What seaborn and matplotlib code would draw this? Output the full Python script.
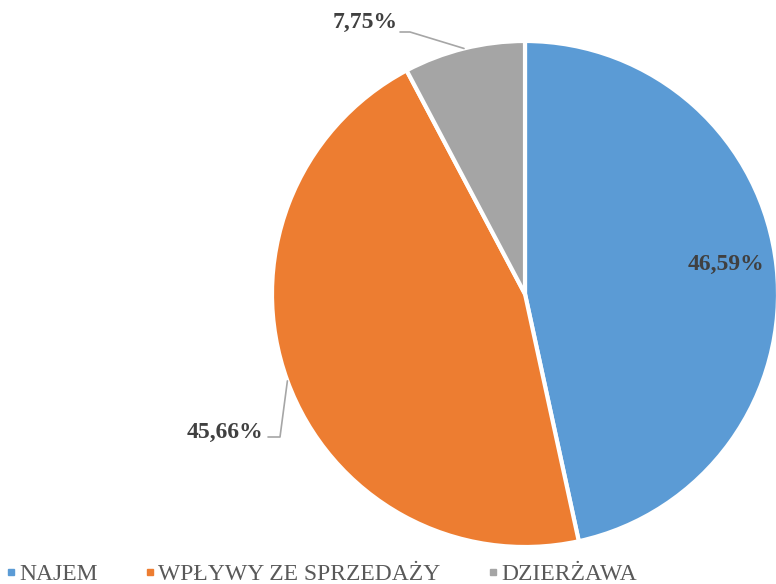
import numpy as np
import matplotlib
matplotlib.use('Agg')
import matplotlib.pyplot as plt
from matplotlib.lines import Line2D
import seaborn as sns

# Revenue structure (shares in %)
categories = ['NAJEM', 'WPŁYWY ZE SPRZEDAŻY', 'DZIERŻAWA']
shares = [46.59, 45.66, 7.75]
value_labels = ['46,59%', '45,66%', '7,75%']
colors = sns.color_palette(['#5B9BD5', '#ED7D31', '#A5A5A5'])

sns.set_theme(style='white')
plt.rcParams['font.family'] = ['Liberation Serif', 'DejaVu Serif']

W, H = 776, 584
fig = plt.figure(figsize=(W / 100, H / 100), dpi=100)
ax = fig.add_axes([0, 0, 1, 1])

# pie centre / radius in pixels
cx, cy, R = 525, 294, 253

wedges, _ = ax.pie(shares, colors=colors, startangle=90, counterclock=False,
                   radius=1.0, wedgeprops=dict(edgecolor='white', linewidth=3))
ax.set_xlim(-cx / R, (W - cx) / R)
ax.set_ylim(-(H - cy) / R, cy / R)
ax.set_aspect('auto')
ax.axis('off')

txt_color = '#404040'
line_color = '#A6A6A6'

def mid_point(w, r=1.0):
    ang = np.deg2rad((w.theta1 + w.theta2) / 2)
    return r * np.cos(ang), r * np.sin(ang)

# NAJEM label inside the slice
x, y = mid_point(wedges[0], 0.80)
ax.text(x, y + 0.03, value_labels[0], ha='center', va='center', fontsize=17,
        fontweight='bold', color=txt_color)

# DZIERŻAWA label outside with leader line
ex, ey = mid_point(wedges[2])
tx, ty = (365 - cx) / R, (cy - 22) / R
elbow = ((410 - cx) / R, (cy - 32) / R)
start = ((400 - cx) / R, (cy - 32) / R)
ax.plot([start[0], elbow[0], ex], [start[1], elbow[1], ey], color=line_color, lw=1.2)
ax.text(tx, ty, value_labels[2], ha='center', va='center', fontsize=17,
        fontweight='bold', color=txt_color)

# WPŁYWY label outside with leader line
ex, ey = mid_point(wedges[1])
tx, ty = (225 - cx) / R, (cy - 432) / R
start = ((268 - cx) / R, (cy - 437) / R)
elbow = ((280 - cx) / R, (cy - 437) / R)
ax.plot([start[0], elbow[0], ex], [start[1], elbow[1], ey], color=line_color, lw=1.2)
ax.text(tx, ty, value_labels[1], ha='center', va='center', fontsize=17,
        fontweight='bold', color=txt_color)

handles = [Line2D([], [], marker='s', linestyle='none', markersize=5,
                  markerfacecolor=c, markeredgecolor=c) for c in colors]
leg = fig.legend(handles, categories, loc='lower left', bbox_to_anchor=(-0.005, -0.018),
                 ncol=3, frameon=False, fontsize=17, handlelength=0.5,
                 handletextpad=0.1, columnspacing=1.95, borderaxespad=0.0)
for t in leg.get_texts():
    t.set_color('#595959')

fig.savefig('out.png', dpi=100)
